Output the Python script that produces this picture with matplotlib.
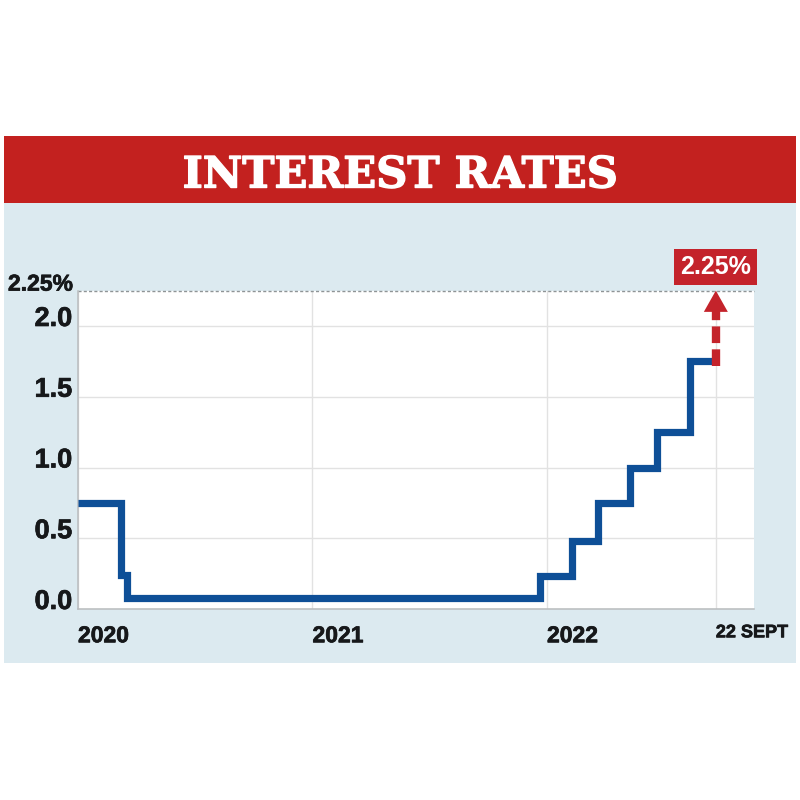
import matplotlib
matplotlib.use("Agg")
import matplotlib.pyplot as plt
import matplotlib.patheffects as pe
from matplotlib.patches import Rectangle

title = "INTEREST RATES"
step_years = [2020.0, 2020.183, 2020.209, 2021.970, 2022.107, 2022.218, 2022.354, 2022.469, 2022.610, 2022.720]
step_rates = [0.75, 0.24, 0.08, 0.23, 0.48, 0.75, 1.0, 1.25, 1.75, 1.75]
target_year = 2022.72
last_rate = 1.75
target_rate = 2.25
y_ticks = [0.0, 0.5, 1.0, 1.5, 2.0]
y_labels = ["0.0", "0.5", "1.0", "1.5", "2.0"]
x_ticks = [2020.0, 2021.0, 2022.0, 2022.72]
x_labels = ["2020", "2021", "2022", "22 SEPT"]
top_label = "2.25%"

RED = "#c3211f"
ARROW = "#c4232b"
PANEL = "#dceaf0"
BLUE = "#0e4f97"
GRID = "#e2e2e2"
AXC = "#b9bcbe"
INK = "#16181a"
NARROW = ["Liberation Sans Narrow", "Liberation Sans", "DejaVu Sans"]
HEAVY = [pe.withStroke(linewidth=0.5, foreground=INK)]

fig = plt.figure(figsize=(8, 8), dpi=100, facecolor="white")
W = H = 800.0

def rect(x0, y0, x1, y1, color):
    fig.add_artist(Rectangle((x0 / W, 1 - y1 / H), (x1 - x0) / W, (y1 - y0) / H,
                             transform=fig.transFigure, facecolor=color, edgecolor="none", zorder=-5))

rect(4, 203, 796, 663, PANEL)
rect(4, 136, 796, 203, RED)
fig.text(400 / W, 1 - 171 / H, title, color="white", family=["DejaVu Serif"],
         fontweight="bold", fontsize=31.1, ha="center", va="center_baseline",
         path_effects=[pe.withStroke(linewidth=1.0, foreground="white")])

ax = fig.add_axes([78 / W, 1 - 609 / H, (754 - 78) / W, (609 - 291) / H], facecolor="white")
ax.set_xlim(2020.0, 2020.0 + (754 - 78) / 234.5)
ax.set_ylim(0, 318 / 141.5)

for s in ("top", "right"):
    ax.spines[s].set_visible(False)
for s in ("left", "bottom"):
    ax.spines[s].set_color(AXC)
    ax.spines[s].set_linewidth(1.1)

ax.set_axisbelow(True)
ax.set_yticks(y_ticks, y_labels)
ax.set_xticks(x_ticks, x_labels)
ax.grid(True, color=GRID, linewidth=1.0)
ax.tick_params(axis="both", length=0, labelcolor=INK)
ax.tick_params(axis="y", pad=4)
ax.tick_params(axis="x", pad=11)
for t in ax.get_yticklabels():
    t.set_family(NARROW); t.set_fontweight("bold"); t.set_fontsize(19.5); t.set_va("baseline")
    t.set_path_effects(HEAVY)
for t in ax.get_xticklabels():
    t.set_family(NARROW); t.set_fontweight("bold"); t.set_fontsize(16.5); t.set_ha("left")
    t.set_path_effects(HEAVY)
ax.get_xticklabels()[3].set_fontsize(13)

ax.axhline(target_rate, color="#8f9496", linewidth=1.0, linestyle=(0, (2.2, 1.6)), clip_on=False, zorder=2)
ax.text(-0.008, target_rate, top_label, transform=ax.get_yaxis_transform(), family=NARROW,
        fontweight="bold", fontsize=16.5, color=INK, ha="right", va="baseline", clip_on=False,
        path_effects=HEAVY)

ax.step(step_years, step_rates, where="post", color=BLUE, linewidth=5.2,
        solid_joinstyle="miter", solid_capstyle="butt", zorder=3)

ax.plot([target_year, target_year], [last_rate - 0.03, target_rate - 0.14], color=ARROW, linewidth=6,
        linestyle=(0, (2.0, 0.75)), dash_capstyle="butt", zorder=4)
ax.annotate("", xy=(target_year, target_rate), xytext=(target_year, target_rate - 0.16),
            arrowprops=dict(arrowstyle="-|>,head_width=0.48,head_length=0.85", color=ARROW,
                            linewidth=0, shrinkA=0, shrinkB=0, mutation_scale=18), zorder=5)
ax.text(target_year, target_rate + 0.17, top_label, family=NARROW, fontweight="bold", fontsize=18,
        color="white", ha="center", va="center", clip_on=False, zorder=6,
        bbox=dict(boxstyle="square,pad=0.24", facecolor=ARROW, edgecolor="none"))

fig.savefig("out.png", dpi=100, facecolor="white")
